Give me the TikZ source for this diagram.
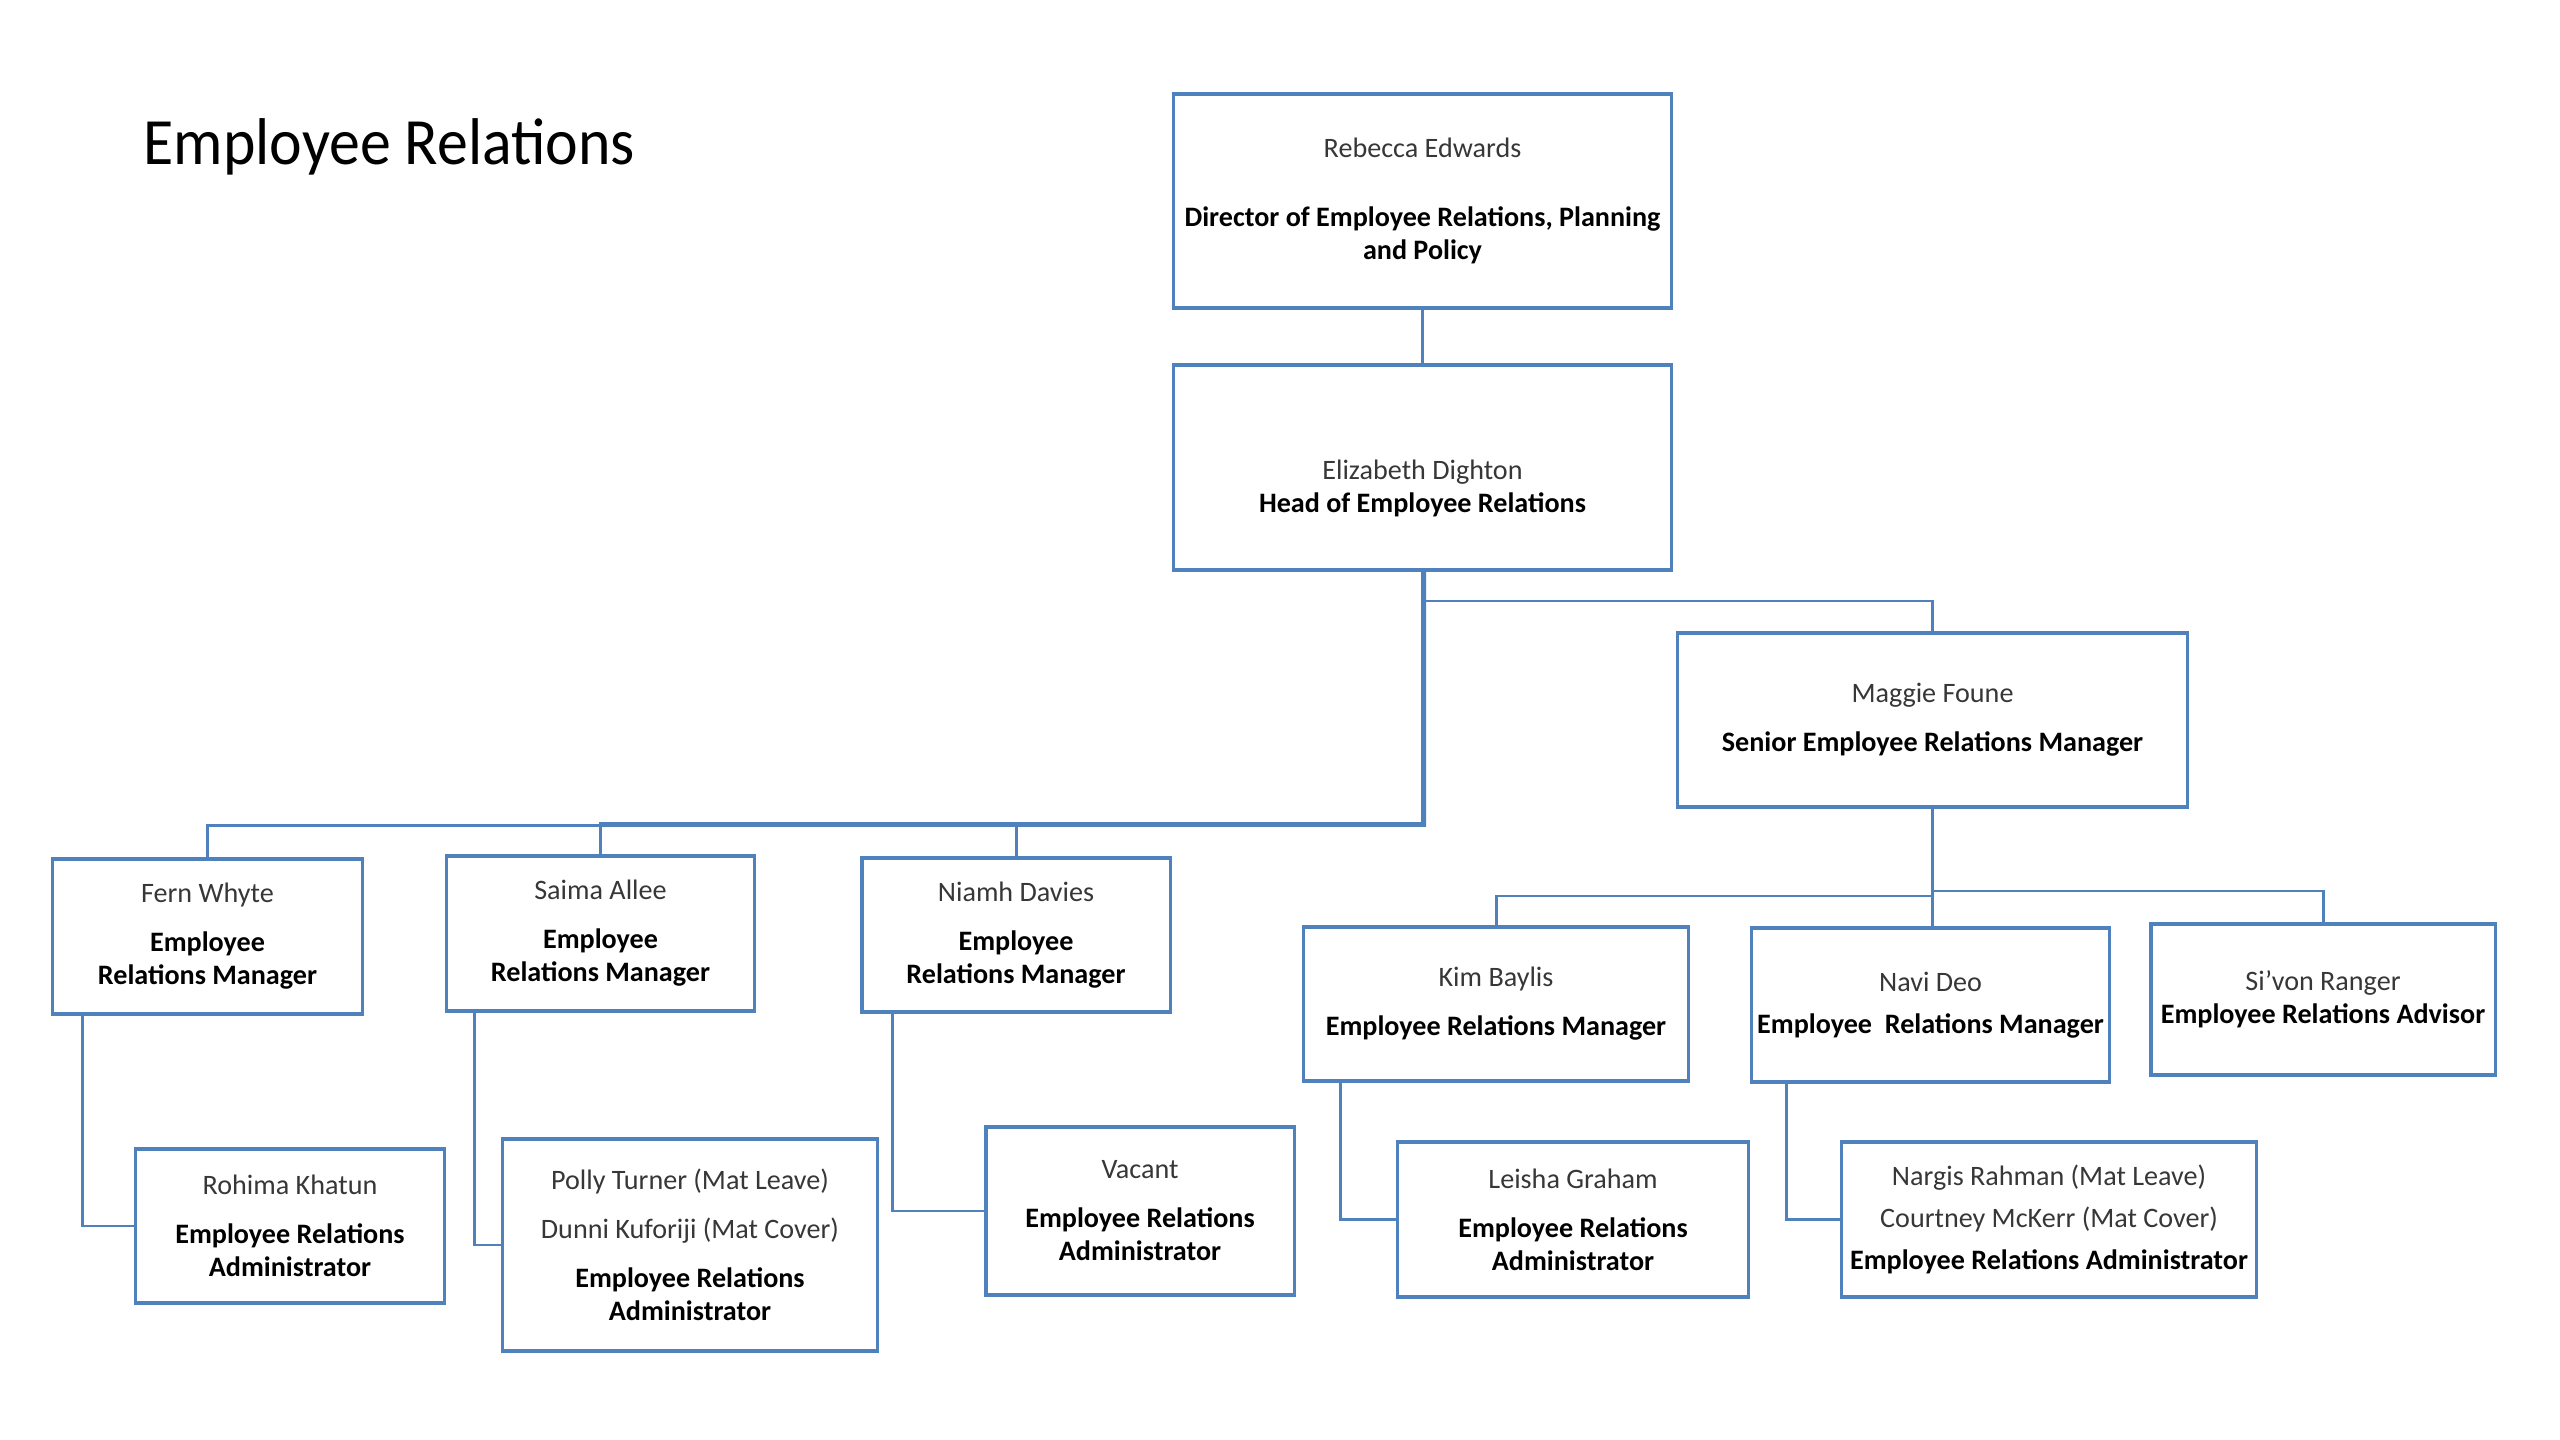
\documentclass[tikz,border=0pt]{standalone}
\usepackage{fontspec}
\setmainfont{Carlito}
\newfontfamily\titlefont[FakeStretch=0.935]{Carlito}
\definecolor{erblue}{RGB}{79,129,189}
\definecolor{namegray}{RGB}{55,55,55}
\newcommand{\nm}[1]{{\color{namegray}#1}}

\begin{document}
\begin{tikzpicture}[x=0.01cm,y=-0.01cm]
      \tikzstyle{every node}+=[inner sep=0pt]
      \tikzstyle{post}=[draw=erblue, line width=0.9pt, fill=white, align=center,
        font=\fontsize{8}{9.4}\selectfont]
      \tikzstyle{link}=[erblue, line width=0.85pt]
      \useasboundingbox (0,0) rectangle (2560,1440);
      \node [anchor=base west, font=\titlefont\fontsize{18.8}{22}\selectfont] (title) at (143,165) {Employee Relations};
      % top of the chart
      \node [post, minimum width=4.97cm, minimum height=2.14cm] (rebecca) at (1422.5,201)
        {\nm{Rebecca Edwards}\\[0.35cm]\textbf{Director of Employee Relations, Planning}\\\textbf{and Policy}};
      \node [post, minimum width=4.97cm, minimum height=2.05cm] (eliz) at (1422.5,467.5)
        {\rule{0pt}{0.62cm}\nm{Elizabeth Dighton}\\\textbf{Head of Employee Relations}};
      \node [post, minimum width=5.09cm, minimum height=1.74cm] (maggie) at (1932.5,720)
        {\nm{Maggie Foune}\\[0.16cm]\textbf{Senior Employee Relations Manager}};
      % managers
      \node [post, minimum width=3.09cm, minimum height=1.55cm] (fern) at (207.5,936.5)
        {\nm{Fern Whyte}\\[0.16cm]\textbf{Employee}\\\textbf{Relations Manager}};
      \node [post, minimum width=3.07cm, minimum height=1.55cm] (saima) at (600.5,933.5)
        {\nm{Saima Allee}\\[0.16cm]\textbf{Employee}\\\textbf{Relations Manager}};
      \node [post, minimum width=3.08cm, minimum height=1.54cm] (niamh) at (1016,935)
        {\nm{Niamh Davies}\\[0.16cm]\textbf{Employee}\\\textbf{Relations Manager}};
      \node [post, minimum width=3.84cm, minimum height=1.54cm] (kim) at (1496,1004)
        {\nm{Kim Baylis}\\[0.16cm]\textbf{Employee Relations Manager}};
      \node [post, minimum width=3.57cm, minimum height=1.54cm] (navi) at (1930.5,1005)
        {\nm{Navi Deo}\\[0.09cm]\textbf{Employee\ \ Relations Manager}};
      \node [post, minimum width=3.44cm, minimum height=1.51cm] (sivon) at (2323,999.5)
        {\nm{Si’von Ranger}\\\textbf{Employee Relations Advisor}};
      % administrators
      \node [post, minimum width=3.08cm, minimum height=1.54cm] (rohima) at (290,1226)
        {\nm{Rohima Khatun}\\[0.16cm]\textbf{Employee Relations}\\\textbf{Administrator}};
      \node [post, minimum width=3.74cm, minimum height=2.12cm] (polly) at (690,1245)
        {\nm{Polly Turner (Mat Leave)}\\[0.16cm]\nm{Dunni Kuforiji (Mat Cover)}\\[0.16cm]\textbf{Employee Relations}\\\textbf{Administrator}};
      \node [post, minimum width=3.08cm, minimum height=1.68cm] (vacant) at (1140,1211)
        {\nm{Vacant}\\[0.16cm]\textbf{Employee Relations}\\\textbf{Administrator}};
      \node [post, minimum width=3.50cm, minimum height=1.55cm] (leisha) at (1573,1219.5)
        {\nm{Leisha Graham}\\[0.16cm]\textbf{Employee Relations}\\\textbf{Administrator}};
      \node [post, minimum width=4.15cm, minimum height=1.55cm] (nargis) at (2049,1219.5)
        {\nm{Nargis Rahman (Mat Leave)}\\[0.09cm]\nm{Courtney McKerr (Mat Cover)}\\[0.09cm]\textbf{Employee Relations Administrator}};
      % bus points
      \coordinate (topbus) at (1422.5,601);
      \coordinate (lowbus) at (1422.5,823.5);
      \coordinate (lowbusb) at (1424.5,825.5);
      \coordinate (rbus) at (1932.5,896);
      \coordinate (rbusb) at (1932.5,891);
      \draw [link] (rebecca) -- (eliz);
      \draw [link] (eliz.south) -- (topbus) -| (maggie.north);
      \draw [link] ([xshift=0.02cm]eliz.south) -- (lowbusb) -| (fern.north);
      \draw [link] (eliz.south) -- (lowbus) -| (saima.north);
      \draw [link] (lowbus) -| (niamh.north);
      \draw [link] (maggie.south) -- (rbus) -| (kim.north);
      \draw [link] (rbus) -- (rbus |- navi.north);
      \draw [link] (rbusb) -| (sivon.north);
      \draw [link] ([xshift=0.31cm]fern.south west) |- (rohima.west);
      \draw [link] ([xshift=0.295cm]saima.south west) |- (polly.west);
      \draw [link] ([xshift=0.32cm]niamh.south west) |- (vacant.west);
      \draw [link] ([xshift=0.38cm]kim.south west) |- (leisha.west);
      \draw [link] ([xshift=0.36cm]navi.south west) |- (nargis.west);
    \end{tikzpicture}
\end{document}
